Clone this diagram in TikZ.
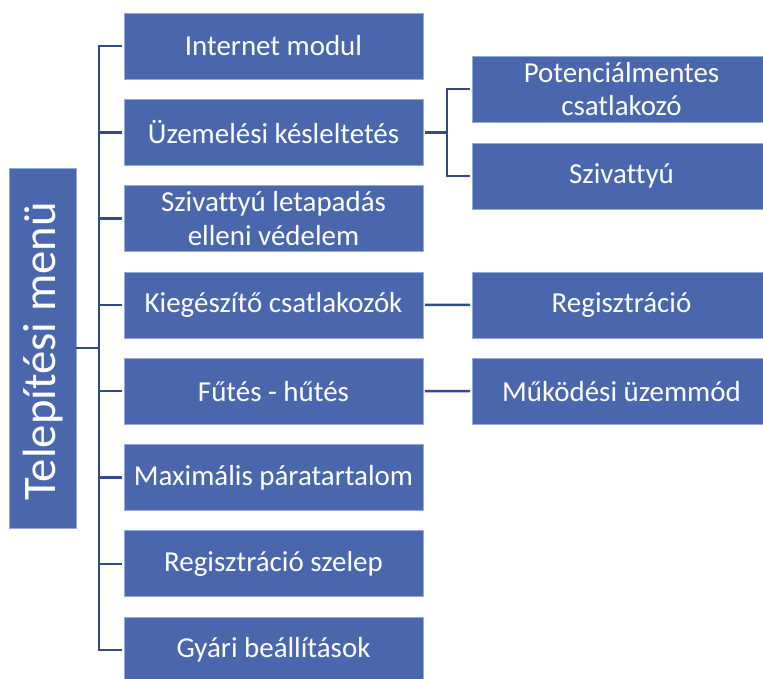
\documentclass[tikz,border=0pt]{standalone}
\usepackage{fontspec}
\setmainfont{Carlito}[RawFeature=-liga]
\usepackage{tikz}
\definecolor{boxblue}{RGB}{74,103,173}
\definecolor{boxedge}{RGB}{150,170,215}
\definecolor{linkblue}{RGB}{50,74,134}

\begin{document}
\begin{tikzpicture}[line cap=rect,line join=miter,x=0.75pt,y=-0.75pt,
  menubox/.style={rectangle,fill=boxblue,draw=boxedge,line width=0.6pt,text=white,
    minimum width=224.25pt,minimum height=49.5pt,align=center,inner sep=0pt,
    font=\fontsize{21.7}{25}\selectfont},
  link/.style={draw=linkblue,line width=1.9pt}]
      \useasboundingbox (0,0) rectangle (763,678);
      \node[menubox,rotate=90,minimum width=270pt,minimum height=50.25pt,
        font=\fontsize{35}{40}\selectfont] (top) at (42.5,348) {};
      \node[rotate=90,text=white,font=\fontsize{35}{40}\selectfont,inner sep=0pt]
        (toplabel) at (43,351.5) {Telepítési menü};
      \foreach \i/\t in {1/Internet modul,2/Üzemelési késleltetés,
        3/{Szivattyú letapadás\\elleni védelem},4/Kiegészítő csatlakozók,
        5/Fűtés - hűtés,6/Maximális páratartalom,7/Regisztráció szelep,
        8/Gyári beállítások}
      \node[menubox] (m\i) at (273.5,{46+86.3*(\i-1)}) {\t};
      \node[menubox] (r1) at (621.5,89) {Potenciálmentes\\csatlakozó};
      \node[menubox] (r2) at (621.5,176) {Szivattyú};
      \node[menubox] (r3) at (621.5,304.9) {Regisztráció};
      \node[menubox] (r4) at (621.5,391.2) {Működési üzemmód};
      \coordinate (trunk) at (99,348);
      \coordinate (fork) at (447,132.3);
      \foreach \i in {1,...,8}
      \draw[link] ([xshift=1pt]top.south) -- (trunk) |- ([xshift=-2pt]m\i.west);
      \foreach \j in {1,2}
      \draw[link] ([xshift=2pt]m2.east) -- (fork) |- ([xshift=-2pt]r\j.west);
      \draw[link] ([xshift=2pt]m4.east) -- ([xshift=-2pt]r3.west);
      \draw[link] ([xshift=2pt]m5.east) -- ([xshift=-2pt]r4.west);
\end{tikzpicture}
\end{document}
